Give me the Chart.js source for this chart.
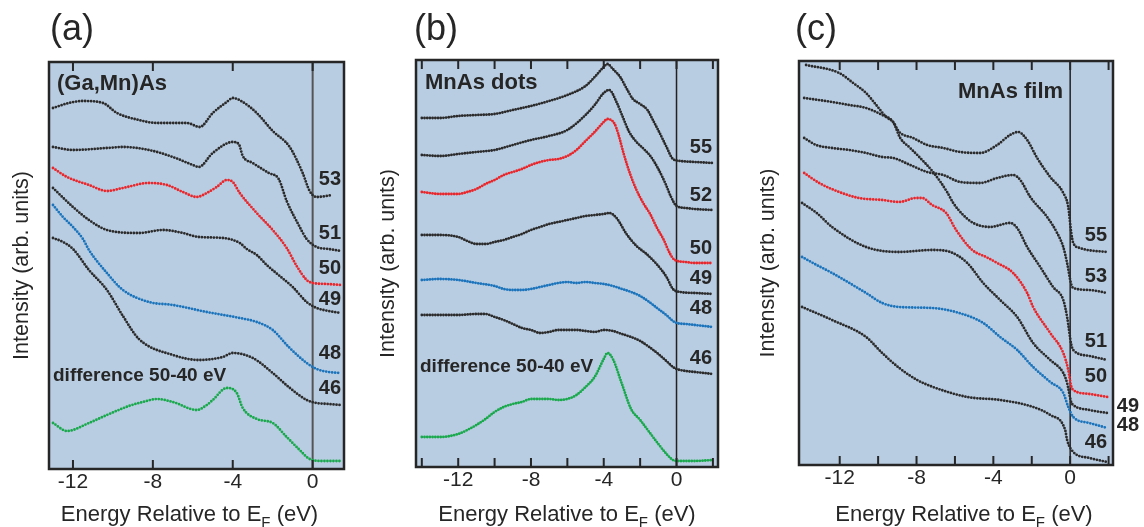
<!DOCTYPE html>
<html>
<head>
<meta charset="utf-8">
<script src="https://cdn.jsdelivr.net/npm/chart.js@4.4.1/dist/chart.umd.min.js"></script>
<style>
html,body{margin:0;padding:0;background:#fff;}
#wrap{position:relative;width:1144px;height:527px;overflow:hidden;}
canvas{position:absolute;top:0;}
</style>
</head>
<body>
<div id="wrap">
<canvas id="ca" width="380" height="527" style="left:0px;width:380px;height:527px"></canvas>
<canvas id="cb" width="380" height="527" style="left:380px;width:380px;height:527px"></canvas>
<canvas id="cc" width="384" height="527" style="left:760px;width:384px;height:527px"></canvas>
</div>
<script>
// ---------------- DATA (energy eV, intensity arb. units) ----------------
// Panel (a) (Ga,Mn)As
const a53 = [[-13,361],[-12.2,366],[-11.5,368],[-10.5,366],[-9.8,356],[-8.7,349],[-7.8,346],[-6.3,346],[-5.65,342],[-5,356],[-4.3,367],[-4,371],[-3.5,367],[-2.8,356],[-2,338],[-1.15,322],[-0.5,296],[-0.15,278],[0.2,272],[1,274]];
const a51 = [[-13,322],[-12,319],[-10.3,321],[-9.5,322],[-8.2,319],[-7,312],[-6,304],[-5.7,302],[-5,316],[-4,327],[-3.7,325],[-3.5,313],[-3,306],[-2.2,296],[-1.7,290],[-1.3,268],[-0.7,244],[-0.3,230],[0.2,222],[0.8,220],[1.4,218]];
const a50 = [[-13,301],[-12.3,292],[-11.2,284],[-10.3,278],[-9.5,281],[-8.2,286],[-7.3,284],[-6.5,277],[-5.8,272],[-5.3,276],[-4.8,282],[-4.3,289],[-4,287],[-3.65,276],[-2.8,256],[-2,239],[-1.3,221],[-0.8,203],[-0.3,189],[0,186],[0.7,185],[1.4,184]];
const a49 = [[-13,281],[-12,262],[-11.2,249],[-10.3,239],[-8.7,236],[-7.5,239],[-6.5,236],[-5.7,232],[-4.5,231],[-3.65,226],[-3.3,220],[-2.8,214],[-2.3,204],[-1.65,193],[-1,182],[-0.3,167],[0.2,161],[0.8,158],[1.4,156]];
const a48 = [[-13,264],[-12.5,252],[-12,242],[-11.5,230],[-11.2,219],[-10.3,196],[-9.5,179],[-8.2,167],[-7,164],[-5.3,157],[-3.65,151],[-2.8,147],[-2,139],[-1.2,122],[-0.3,106],[0.2,100],[0.8,97],[1.4,96]];
const a46 = [[-13,231],[-12.5,227],[-12,220],[-11.2,199],[-10.3,179],[-9.5,153],[-8.7,130],[-7,114],[-5.7,109],[-4.5,112],[-4,116],[-3,111],[-2,96],[-1.2,82],[-0.3,69],[0.2,66],[0.8,65],[1.4,64]];
const aDiff = [[-13,46],[-12.3,38],[-11.2,46],[-10.3,54],[-9.2,63],[-8.5,67],[-7.8,70],[-7,67],[-5.8,59],[-5.3,64],[-5,69],[-4.3,81],[-3.8,76],[-3.5,61],[-2.8,50],[-2,46],[-1.3,32],[-0.65,19],[-0.15,10],[0.5,8],[1.4,8]];

// Panel (b) MnAs dots
const b55 = [[-14,349],[-13,349],[-12,351],[-11,352],[-10,353],[-9,357],[-8,361],[-7,366],[-6,372],[-5,381],[-4.5,390],[-4,400],[-3.8,403],[-3.5,398],[-3.1,390],[-2.7,377],[-2.4,368],[-2,363],[-1.6,357],[-1.3,347],[-0.9,333],[-0.55,320],[-0.2,308],[0.2,306],[1,305],[2,304]];
const b52 = [[-14,312],[-13,311],[-12,313],[-11,315],[-10,317],[-9,322],[-8,327],[-7,331],[-6,337],[-5,352],[-4.5,362],[-4,374],[-3.7,377],[-3.3,365],[-3,352],[-2.6,335],[-2.2,325],[-1.8,318],[-1.4,310],[-1,298],[-0.6,283],[-0.3,270],[0,261],[0.5,259],[1,258],[2,257]];
const b50 = [[-14,275],[-13,273],[-12,273],[-11.5,275],[-11,278],[-10.5,283],[-10,287],[-9.5,292],[-9,295],[-8.5,298],[-8,302],[-7.5,305],[-7,307],[-6.5,308],[-6,311],[-5.5,317],[-5,326],[-4.5,335],[-4,345],[-3.8,348],[-3.4,343],[-3.2,333],[-2.9,313],[-2.55,293],[-2.2,277],[-1.8,263],[-1.45,253],[-1.1,240],[-0.7,227],[-0.35,213],[-0.1,207],[0.5,205],[1,204],[2,204]];
const b49 = [[-14,232],[-13,232],[-12,230],[-11.5,226],[-11,223],[-10.5,223],[-10,225],[-9.5,227],[-9,230],[-8.5,233],[-8,237],[-7.5,240],[-7,243],[-6.5,245],[-6,247],[-5.5,249],[-5,251],[-4.5,252],[-4,253],[-3.7,254],[-3.3,249],[-2.75,233],[-2.2,221],[-1.65,213],[-1.1,203],[-0.55,190],[-0.2,178],[0.2,175],[1,174],[2,173]];
const b48 = [[-14,187],[-13,188],[-12,187],[-11,184],[-10,181],[-9.5,178],[-9,177],[-8.5,177],[-8,178],[-7.5,180],[-7,182],[-6.5,184],[-6,185],[-5.5,184],[-5,185],[-4.5,184],[-4,183],[-3.5,181],[-3,178],[-2.5,175],[-2,171],[-1.5,165],[-1,158],[-0.5,151],[-0.2,146],[0,144],[0.5,143],[1,142],[2,140]];
const b46 = [[-14,152],[-13,152],[-12,152],[-11,153],[-10.5,153],[-10,150],[-9.5,147],[-9,143],[-8.5,139],[-8,137],[-7.5,134],[-7,135],[-6.5,137],[-6,137],[-5.5,137],[-5,136],[-4.5,135],[-4,137],[-3.5,136],[-3,133],[-2.5,130],[-2,126],[-1.5,120],[-1,113],[-0.5,105],[-0.2,100],[0,98],[0.5,96],[1,95],[2,93]];
const bDiff = [[-14,30],[-13,30],[-12,33],[-11.5,37],[-11,42],[-10.5,48],[-10,55],[-9.5,60],[-9,63],[-8.5,65],[-8,68],[-7.5,68],[-7,68],[-6.5,67],[-6,68],[-5.5,72],[-5,80],[-4.5,90],[-4,108],[-3.8,114],[-3.5,108],[-3,83],[-2.5,58],[-2,47],[-1.5,35],[-1,23],[-0.5,12],[-0.2,7],[0,6],[0.5,6],[1,6],[2,7]];

// Panel (c) MnAs film
const c55 = [[-13.75,399],[-12.03,391],[-11.3,381],[-10.63,371],[-10.1,359],[-9.58,347],[-9.22,342],[-8.9,332],[-8.18,326],[-7.45,319],[-6.61,316],[-5.73,312],[-4.69,311],[-3.8,319],[-3.13,329],[-2.71,332],[-2.24,324],[-1.72,306],[-1.04,287],[-0.36,271],[-0.1,257],[0.05,232],[0.16,221],[0.5,216],[0.9,214],[1.93,212]];
const c53 = [[-13.85,326],[-13.23,319],[-12.4,316],[-11.51,314],[-10.63,311],[-9.79,307],[-9.22,306],[-8.33,299],[-7.45,292],[-6.61,289],[-5.73,282],[-4.69,281],[-3.8,286],[-2.97,289],[-2.6,284],[-2.08,267],[-1.2,247],[-0.68,231],[-0.36,217],[-0.16,201],[0.05,180],[0.16,176],[1,174],[1.93,171]];
const c51 = [[-13.85,366],[-12.4,362],[-11.51,359],[-10.63,356],[-9.79,349],[-9.22,342],[-8.85,326],[-8.33,316],[-7.81,306],[-7.14,292],[-6.41,272],[-6.09,261],[-5.57,249],[-5.05,241],[-4.17,237],[-3.13,241],[-2.76,236],[-2.24,217],[-1.56,197],[-0.89,177],[-0.36,164],[-0.16,147],[0.05,120],[0.16,114],[1,108],[1.93,104]];
const c50 = [[-13.85,291],[-13.07,281],[-12.03,272],[-11,266],[-9.79,264],[-8.9,262],[-8.02,266],[-7.71,266],[-7.19,259],[-6.46,251],[-5.94,234],[-5.1,214],[-4.38,207],[-3.8,201],[-2.97,191],[-2.24,171],[-1.93,157],[-1.04,131],[-0.36,111],[-0.1,94],[0.05,78],[0.16,74],[1,70],[1.93,67]];
const c49 = [[-13.96,261],[-13.2,251],[-12.4,237],[-10.63,217],[-8.9,212],[-7.19,214],[-6.25,212],[-5.36,201],[-4.53,181],[-3.65,164],[-2.76,147],[-1.93,121],[-1.04,104],[-0.36,91],[-0.16,81],[0.05,62],[0.16,59],[1,54],[1.93,51]];
const c48 = [[-13.96,207],[-13.2,199],[-12.4,191],[-10.63,171],[-9.79,161],[-8.9,157],[-7.19,156],[-5.78,151],[-4.53,141],[-3.65,127],[-2.76,114],[-1.93,97],[-1.04,82],[-0.36,71],[-0.1,57],[0.16,47],[1,41],[1.93,36]];
const c46 = [[-13.96,157],[-12.4,144],[-10.63,127],[-9.79,111],[-8.9,96],[-7.97,84],[-7.14,77],[-5.36,67],[-3.65,64],[-1.93,57],[-1.04,49],[-0.26,34],[-0.16,24],[0.16,12],[1,6],[1.93,2]];

// tick values
const majorTicks = [-12, -8, -4, 0];
const minorTicksB = [-14, -10, -6, -2, 2];
const minorTicksC = [-10, -6, -2, 2];

// ---------------- STYLE ----------------
const FONT = '"Liberation Sans", Arial, Helvetica, sans-serif';
Chart.defaults.font.family = FONT;
const BG = '#b9cde2';
const INK = '#262626';
const BLACK = '#2b2b2b', RED = '#e8272c', BLUE = '#1b74bb', GREEN = '#19a94c';

function makeDecor(P) {
  return {
    id: 'decor_' + P.id,
    beforeDatasetsDraw(chart) {
      const {ctx, chartArea: ca} = chart;
      const xs = chart.scales.x;
      ctx.save();
      ctx.fillStyle = BG;
      ctx.fillRect(ca.left, ca.top, ca.right - ca.left, ca.bottom - ca.top);
      const x0 = xs.getPixelForValue(0);
      ctx.strokeStyle = P.zeroColor; ctx.lineWidth = P.zeroWidth;
      ctx.beginPath(); ctx.moveTo(x0, ca.top); ctx.lineTo(x0, ca.bottom); ctx.stroke();
      ctx.restore();
    },
    afterDatasetsDraw(chart) {
      const {ctx, chartArea: ca} = chart;
      const xs = chart.scales.x, ys = chart.scales.y;
      ctx.save();
      // inward tick marks, top and bottom
      ctx.strokeStyle = INK; ctx.lineWidth = 2;
      for (const v of P.ticks) {
        const px = xs.getPixelForValue(v);
        ctx.beginPath();
        ctx.moveTo(px, ca.bottom); ctx.lineTo(px, ca.bottom - 9);
        ctx.moveTo(px, ca.top); ctx.lineTo(px, ca.top + 9);
        ctx.stroke();
      }
      // frame
      ctx.lineWidth = 2.5;
      ctx.strokeRect(ca.left, ca.top, ca.right - ca.left, ca.bottom - ca.top);
      // curve labels (photon energies)
      ctx.fillStyle = INK;
      ctx.font = 'bold 20px ' + FONT;
      ctx.textAlign = 'right'; ctx.textBaseline = 'middle';
      chart.data.datasets.forEach(d => {
        if (!d.showLabel) return;
        const last = d.data[d.data.length - 1];
        ctx.fillText(d.label, ca.right + d.labelDx, ys.getPixelForValue(last.y) + d.labelDy);
      });
      // free texts
      ctx.textAlign = 'left';
      for (const t of P.texts) {
        ctx.font = t.font + ' ' + FONT;
        ctx.textBaseline = t.base;
        ctx.fillText(t.t, t.x, t.y);
      }
      // x axis title with subscript
      const f1 = '22px ' + FONT, f2 = '15px ' + FONT;
      const s1 = 'Energy Relative to E', s2 = 'F', s3 = ' (eV)';
      ctx.font = f1; const w1 = ctx.measureText(s1).width, w3 = ctx.measureText(s3).width;
      ctx.font = f2; const w2 = ctx.measureText(s2).width;
      let sx = (ca.left + ca.right) / 2 + P.titleDx - (w1 + w2 + w3) / 2;
      const base = 520.5;
      ctx.textBaseline = 'alphabetic';
      ctx.font = f1; ctx.fillText(s1, sx, base); sx += w1;
      ctx.font = f2; ctx.fillText(s2, sx, base + 6); sx += w2;
      ctx.font = f1; ctx.fillText(s3, sx, base);
      ctx.restore();
    }
  };
}

function makeChart(id, P) {
  const canvas = document.getElementById(id);
  return new Chart(canvas, {
    type: 'line',
    data: {
      datasets: P.series.map(s => ({
        label: s.name,
        data: s.pts.map(p => ({x: p[0], y: p[1]})),
        borderColor: s.color, backgroundColor: s.color,
        borderWidth: 2.8, borderDash: [0, P.dash], borderCapStyle: 'round', borderJoinStyle: 'round',
        pointRadius: 0, pointHoverRadius: 0, cubicInterpolationMode: 'monotone', fill: false,
        labelDx: s.dx, labelDy: s.dy, showLabel: s.dx !== undefined
      }))
    },
    options: {
      responsive: false, animation: false, events: [],
      layout: {padding: {left: 0, top: P.top, right: P.padR, bottom: 0}},
      plugins: {legend: {display: false}, tooltip: {enabled: false}, title: {display: false}},
      scales: {
        x: {
          type: 'linear', position: 'bottom', min: P.xmin, max: P.xmax,
          grid: {display: false, drawTicks: false}, border: {display: false},
          ticks: {color: INK, font: {size: 21}, padding: 1, autoSkip: false, maxRotation: 0,
                  callback: v => String(v)},
          afterBuildTicks: sc => { sc.ticks = majorTicks.map(v => ({value: v})); },
          afterFit: sc => { sc.height = P.xh; }
        },
        y: {
          type: 'linear', position: 'left', min: P.ymin, max: P.ymax,
          grid: {display: false, drawTicks: false}, border: {display: false},
          ticks: {display: false},
          title: {display: true, text: 'Intensity (arb. units)', color: INK,
                  font: {size: 21.5, lineHeight: 1}, padding: {top: P.ytPad, bottom: 0}},
          afterFit: sc => { sc.width = P.left; }
        }
      }
    },
    plugins: [makeDecor(P)]
  });
}

makeChart('ca', {
  id: 'a', left: 49, padR: 36, top: 62, xh: 58, xmin: -13.2, xmax: 1.57, ymin: 0, ymax: 407,
  ytPad: 11.25, dash: 3, zeroColor: '#555', zeroWidth: 2, titleDx: -7,
  ticks: majorTicks,
  series: [
    {name: '53', pts: a53, color: BLACK, dx: -3, dy: -16},
    {name: '51', pts: a51, color: BLACK, dx: -3, dy: -18},
    {name: '50', pts: a50, color: RED, dx: -3, dy: -17},
    {name: '49', pts: a49, color: BLACK, dx: -3, dy: -14},
    {name: '48', pts: a48, color: BLUE, dx: -3, dy: -20},
    {name: '46', pts: a46, color: BLACK, dx: -3, dy: -17},
    {name: 'difference 50-40 eV', pts: aDiff, color: GREEN}
  ],
  texts: [
    {t: '(a)', x: 50, y: 40, font: '36px', base: 'alphabetic'},
    {t: '(Ga,Mn)As', x: 57, y: 84, font: 'bold 22px', base: 'middle'},
    {t: 'difference 50-40 eV', x: 53, y: 376, font: 'bold 19px', base: 'middle'}
  ]
});

makeChart('cb', {
  id: 'b', left: 36, padR: 42, top: 60, xh: 60, xmin: -14.32, xmax: 2.28, ymin: 0, ymax: 407,
  ytPad: -2.75, dash: 2.7, zeroColor: '#222', zeroWidth: 1.5, titleDx: 0,
  ticks: majorTicks.concat(minorTicksB),
  series: [
    {name: '55', pts: b55, color: BLACK, dx: -6, dy: -16},
    {name: '52', pts: b52, color: BLACK, dx: -6, dy: -15},
    {name: '50', pts: b50, color: RED, dx: -6, dy: -15},
    {name: '49', pts: b49, color: BLACK, dx: -6, dy: -16},
    {name: '48', pts: b48, color: BLUE, dx: -6, dy: -19},
    {name: '46', pts: b46, color: BLACK, dx: -6, dy: -16},
    {name: 'difference 50-40 eV', pts: bDiff, color: GREEN}
  ],
  texts: [
    {t: '(b)', x: 34, y: 40, font: '36px', base: 'alphabetic'},
    {t: 'MnAs dots', x: 45, y: 83, font: 'bold 22px', base: 'middle'},
    {t: 'difference 50-40 eV', x: 40, y: 367, font: 'bold 19px', base: 'middle'}
  ]
});

makeChart('cc', {
  id: 'c', left: 39, padR: 31, top: 61, xh: 62, xmin: -14.12, xmax: 2.23, ymin: -1, ymax: 403,
  ytPad: -2.75, dash: 3, zeroColor: '#222', zeroWidth: 1.5, titleDx: 8,
  ticks: majorTicks.concat(minorTicksC),
  series: [
    {name: '55', pts: c55, color: BLACK, dx: -6, dy: -17},
    {name: '53', pts: c53, color: BLACK, dx: -6, dy: -17},
    {name: '51', pts: c51, color: BLACK, dx: -6, dy: -19},
    {name: '50', pts: c50, color: RED, dx: -6, dy: -21},
    {name: '49', pts: c49, color: BLACK, dx: 26, dy: -7},
    {name: '48', pts: c48, color: BLUE, dx: 26, dy: -3},
    {name: '46', pts: c46, color: BLACK, dx: -6, dy: -20}
  ],
  texts: [
    {t: '(c)', x: 35, y: 40, font: '36px', base: 'alphabetic'},
    {t: 'MnAs film', x: 198, y: 92, font: 'bold 22px', base: 'middle'}
  ]
});
</script>
</body>
</html>
